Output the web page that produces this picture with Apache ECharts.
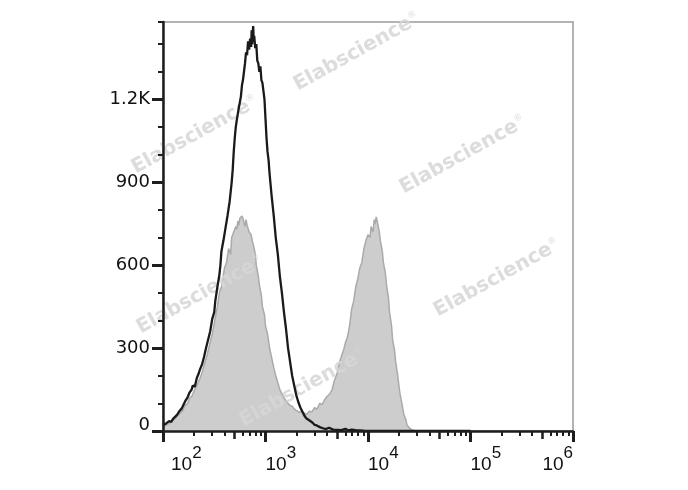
<!DOCTYPE html>
<html>
<head>
<meta charset="utf-8">
<script src="https://cdn.jsdelivr.net/npm/echarts@6/dist/echarts.min.js"></script>
<style>html,body{margin:0;padding:0;background:#fff;}#c{width:688px;height:490px;}</style>
</head>
<body>
<div id="c"></div>
<script>
// x values are decades (log10 of fluorescence intensity); y values are counts
const blackX = [2.00,2.02,2.04,2.06,2.08,2.10,2.12,2.14,2.16,2.18,2.20,2.22,2.24,2.26,2.28,2.29,2.31,2.33,2.35,2.36,2.38,2.40,2.42,2.44,2.46,2.48,2.50,2.51,2.53,2.55,2.56,2.57,2.59,2.61,2.63,2.65,2.67,2.68,2.69,2.70,2.71,2.72,2.73,2.74,2.75,2.76,2.77,2.78,2.79,2.80,2.81,2.82,2.83,2.84,2.85,2.86,2.865,2.87,2.875,2.88,2.885,2.89,2.90,2.91,2.92,2.93,2.94,2.95,2.96,2.97,2.98,2.99,3.00,3.01,3.02,3.03,3.04,3.06,3.08,3.10,3.12,3.14,3.16,3.18,3.20,3.22,3.24,3.26,3.28,3.30,3.32,3.34,3.36,3.38,3.40,3.43,3.46,3.48,3.50,3.53,3.56,3.59,3.62,3.66,3.70,3.74,3.78,3.81,3.84,3.88,3.92,3.96,4.01,4.20,5.00,6.00];
const blackY = [28,24,30,36,33,45,52,60,72,80,95,110,122,140,150,165,160,192,210,222,240,268,300,330,360,405,430,470,520,565,600,650,690,735,780,830,900,945,1010,1060,1100,1125,1130,1170,1190,1210,1250,1270,1300,1330,1370,1360,1410,1380,1420,1390,1450,1400,1440,1465,1410,1430,1385,1400,1340,1330,1300,1320,1270,1260,1230,1200,1130,1060,1010,980,930,850,780,700,640,560,500,430,370,300,250,200,165,130,105,85,70,55,45,38,30,22,20,14,10,7,12,5,4,3,8,2,5,3,2,1,0,0,0];
const grayX = [2.00,2.03,2.05,2.08,2.10,2.12,2.15,2.17,2.19,2.21,2.24,2.26,2.28,2.31,2.33,2.36,2.38,2.41,2.43,2.46,2.48,2.51,2.53,2.55,2.57,2.60,2.62,2.64,2.66,2.67,2.69,2.71,2.72,2.73,2.74,2.75,2.76,2.77,2.78,2.79,2.80,2.81,2.82,2.83,2.84,2.86,2.87,2.89,2.90,2.91,2.93,2.94,2.96,2.97,2.99,3.00,3.02,3.04,3.06,3.08,3.10,3.12,3.14,3.16,3.18,3.20,3.22,3.24,3.26,3.28,3.30,3.33,3.35,3.38,3.40,3.43,3.45,3.48,3.50,3.53,3.55,3.58,3.60,3.63,3.65,3.67,3.70,3.72,3.74,3.76,3.78,3.80,3.82,3.84,3.86,3.88,3.90,3.92,3.94,3.96,3.98,4.00,4.02,4.03,4.05,4.06,4.07,4.08,4.09,4.10,4.11,4.12,4.14,4.15,4.17,4.18,4.20,4.21,4.23,4.24,4.26,4.27,4.29,4.31,4.33,4.35,4.37,4.38,4.40,4.42,4.44,4.46,4.50,6.00];
const grayY = [15,22,25,32,40,45,58,65,72,90,100,120,125,150,165,190,210,250,275,320,350,410,450,500,520,590,610,660,640,700,720,740,730,760,745,770,765,778,770,755,740,765,745,740,720,710,690,660,640,600,560,530,490,450,420,380,350,300,265,230,200,175,150,135,120,110,100,92,90,80,75,68,70,65,60,72,68,85,78,100,95,115,125,136,150,180,210,245,270,290,320,340,380,440,470,520,550,590,610,660,690,710,700,740,720,765,750,775,760,740,720,690,650,610,570,530,480,430,380,330,290,250,200,140,100,60,40,22,12,6,3,1,0,0];
const yLabelValues = [0,300,600,900,1200];
const xDecades = [2,3,4,5,6];
const watermarkText = 'Elabscience';

const fiveTicks = [], otherTicks = [];
for (let k = 2; k < 6; k++) {
  fiveTicks.push(k + Math.log10(5));
  [2,3,4,6,7,8,9].forEach(m => otherTicks.push(k + Math.log10(m)));
}

const chart = echarts.init(document.getElementById('c'), null, {renderer: 'canvas'});
const xBase = {type: 'value', min: 2, max: 6, position: 'bottom', offset: 0, splitLine: {show: false}, z: 5};
const yBase = {type: 'value', min: 0, max: 1480, position: 'left', offset: 0, splitLine: {show: false}, z: 5};

const wmPos = [[357,52],[195,135],[463,155],[497,278],[200,295],[303,388]];
const rot = 29 * Math.PI / 180;

chart.setOption({
  animation: false,
  grid: {left: 163, right: 115, top: 22, bottom: 59, show: true, borderColor: '#9a9a9a', borderWidth: 1.5},
  xAxis: [
    Object.assign({}, xBase, {
      interval: 1,
      axisLine: {show: true, lineStyle: {color: '#1e1e1e', width: 2.5}},
      axisTick: {show: true, length: 11, lineStyle: {color: '#1e1e1e', width: 3}},
      axisLabel: {
        show: true, margin: 14, align: 'left', alignMaxLabel: 'right',
        formatter: function (v) {
          const e = Math.round(v);
          if (xDecades.indexOf(e) < 0) return '';
          return (e === 2 ? '{sp|}' : '') + '{b|10}{s|' + e + '}';
        },
        rich: {
          sp: {width: 8, height: 10},
          b: {fontSize: 19, fontFamily: 'Liberation Sans', color: '#111', lineHeight: 40},
          s: {fontSize: 17, fontFamily: 'Liberation Sans', color: '#111', lineHeight: 16, verticalAlign: 'top'}
        }
      }
    }),
    Object.assign({}, xBase, {
      axisLine: {show: false},
      axisTick: {show: true, customValues: fiveTicks, length: 8, lineStyle: {color: '#1e1e1e', width: 2.5}},
      axisLabel: {show: false}
    }),
    Object.assign({}, xBase, {
      axisLine: {show: false},
      axisTick: {show: true, customValues: otherTicks, length: 5, lineStyle: {color: '#1e1e1e', width: 2}},
      axisLabel: {show: false}
    })
  ],
  yAxis: [
    Object.assign({}, yBase, {
      interval: 100,
      axisLine: {show: true, lineStyle: {color: '#1e1e1e', width: 2.5}},
      axisTick: {show: true, length: 5, lineStyle: {color: '#1e1e1e', width: 2}},
      axisLabel: {show: false}
    }),
    Object.assign({}, yBase, {
      axisLine: {show: false},
      axisTick: {show: true, customValues: yLabelValues, length: 11, lineStyle: {color: '#1e1e1e', width: 3}},
      axisLabel: {
        show: true, customValues: yLabelValues, margin: 13,
        formatter: function (v) {
          if (v === 0) return '{z|0}';
          return v >= 1000 ? (v / 1000).toFixed(1) + 'K' : String(v);
        },
        fontSize: 18, fontFamily: 'DejaVu Sans', color: '#111',
        rich: {z: {fontSize: 18, fontFamily: 'DejaVu Sans', color: '#111', padding: [0, 0, 12, 0]}}
      }
    })
  ],
  series: [
    {
      type: 'line', xAxisIndex: 0, yAxisIndex: 0, z: 1,
      data: grayX.map((x, i) => [x, grayY[i]]),
      showSymbol: false, symbol: 'none',
      lineStyle: {color: '#aaaaaa', width: 1.5},
      areaStyle: {color: '#cdcdcd', opacity: 1}
    },
    {
      type: 'line', xAxisIndex: 0, yAxisIndex: 0, z: 4,
      data: blackX.map((x, i) => [x, blackY[i]]),
      showSymbol: false, symbol: 'none',
      lineStyle: {color: '#1a1a1a', width: 2.3}
    }
  ],
  graphic: wmPos.map(p => ({
    type: 'text', x: p[0], y: p[1], rotation: rot, z: 3, silent: true,
    style: {
      text: '{a|' + watermarkText + '}{r|®}',
      align: 'center', verticalAlign: 'middle',
      rich: {
        a: {fontSize: 20, fontWeight: 'bold', fontFamily: 'DejaVu Sans', fill: 'rgba(214,214,214,0.85)', color: 'rgba(214,214,214,0.85)'},
        r: {fontSize: 9, fontFamily: 'DejaVu Sans', fill: 'rgba(214,214,214,0.85)', color: 'rgba(214,214,214,0.85)', verticalAlign: 'top', lineHeight: 10}
      }
    }
  }))
});
</script>
</body>
</html>
